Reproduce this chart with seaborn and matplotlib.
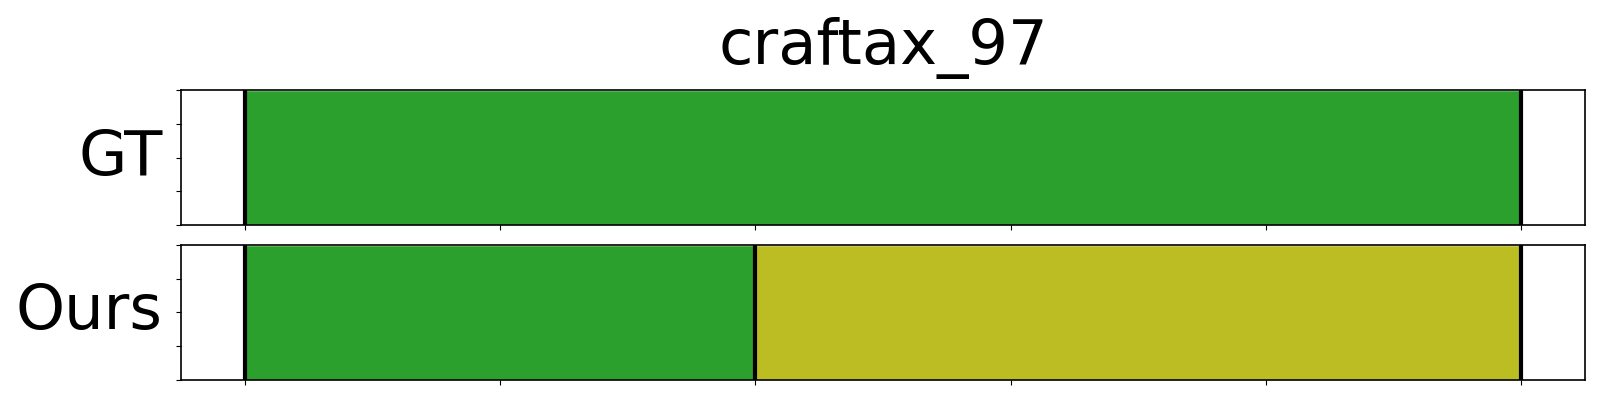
import matplotlib
matplotlib.use("Agg")
import matplotlib.pyplot as plt
import seaborn as sns

# segment data: (start, end, colour) per row
row_names = ["GT", "Ours"]
gt_starts = [0]
gt_ends = [5]
gt_colors = ["tab:green"]
ours_starts = [0, 2]
ours_ends = [2, 5]
ours_colors = ["tab:green", "tab:olive"]
title = "craftax_97"

sns.set_style("ticks")
plt.rcParams["font.family"] = ["DejaVu Sans"]
plt.rcParams["text.color"] = "black"
plt.rcParams["axes.labelcolor"] = "black"

fig, axes = plt.subplots(2, 1, figsize=(16, 4), dpi=100, sharex=True)
fig.subplots_adjust(left=0.113, right=0.9906, top=0.775, bottom=0.05, hspace=0.148)

rows = [(gt_starts, gt_ends, gt_colors), (ours_starts, ours_ends, ours_colors)]
for ax, name, (starts, ends, colors) in zip(axes, row_names, rows):
    widths = [e - s for s, e in zip(starts, ends)]
    ax.barh([0.5] * len(starts), widths, left=starts, height=1.0, color=colors)
    # black boundaries between segments
    for b in sorted(set(starts) | set(ends)):
        ax.axvline(b, color="black", lw=3)
    ax.set_ylim(0, 1)
    ax.set_yticks([0, 0.25, 0.5, 0.75, 1.0])
    ax.set_yticklabels([])
    ax.set_ylabel(name, fontsize=45, rotation=0, ha="right", va="center", labelpad=6)
    for sp in ax.spines.values():
        sp.set_visible(True)
        sp.set_color("black")
        sp.set_linewidth(1.2)
    ax.tick_params(colors="black")

axes[0].set_xlim(-0.25, 5.25)
axes[1].set_xticks([0, 1, 2, 3, 4, 5])
axes[1].set_xticklabels([])
axes[0].tick_params(labelbottom=False)
axes[0].set_title(title, fontsize=45, pad=19, color="black")

plt.savefig("out.png", dpi=100)
